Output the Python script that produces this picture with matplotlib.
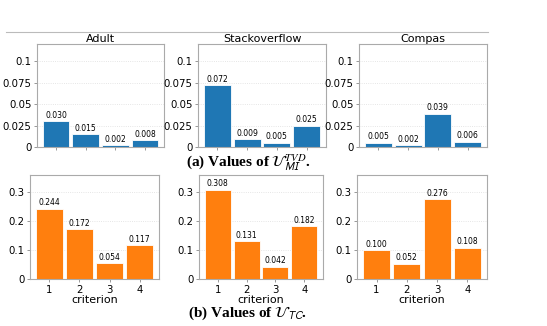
import matplotlib
matplotlib.use('Agg')
import matplotlib.pyplot as plt
from matplotlib.lines import Line2D

plt.rcParams['mathtext.fontset'] = 'stix'

datasets = ['Adult', 'Stackoverflow', 'Compas']
criteria = [1, 2, 3, 4]

u_mi = [
    [0.030, 0.015, 0.002, 0.008],
    [0.072, 0.009, 0.005, 0.025],
    [0.005, 0.002, 0.039, 0.006],
]
u_tc = [
    [0.244, 0.172, 0.054, 0.117],
    [0.308, 0.131, 0.042, 0.182],
    [0.100, 0.052, 0.276, 0.108],
]

mi_ticks = [0, 0.025, 0.05, 0.075, 0.1]
mi_ticklabels = ['0', '0.025', '0.05', '0.075', '0.1']
tc_ticks = [0, 0.1, 0.2, 0.3]
tc_ticklabels = ['0', '0.1', '0.2', '0.3']

W, H = 547, 326

# axes boxes in pixels: left, top, right, bottom
top_boxes = [(37, 44, 164, 147), (198, 44, 326, 147), (359, 44, 487, 147)]
bot_boxes = [(30, 175, 159, 279), (199, 175, 323, 279), (357, 175, 487, 279)]


def px_axes(fig, box):
    l, t, r, b = box
    return fig.add_axes([l / W, 1 - b / H, (r - l) / W, (b - t) / H])


def style(ax, ticks, labels, ymax):
    ax.set_ylim(0, ymax)
    ax.set_yticks(ticks)
    ax.set_yticklabels(labels)
    ax.grid(True, axis='y', linestyle=':', linewidth=0.6, color='#dddddd')
    ax.set_axisbelow(True)
    for s in ax.spines.values():
        s.set_color('#aaaaaa')
        s.set_linewidth(0.8)
    ax.tick_params(axis='both', labelsize=7.3, length=2.5, width=0.6,
                   color='#888888', pad=1.5)


def bars(ax, vals, color):
    ax.bar(criteria, vals, width=0.9, color=color, edgecolor='white', linewidth=0.6)
    pad = ax.get_ylim()[1] * 0.015
    for x, v in zip(criteria, vals):
        ax.text(x, v + pad, f'{v:.3f}', ha='center', va='bottom', fontsize=5.5)


fig = plt.figure(figsize=(W / 100, H / 100), dpi=100)

for i, name in enumerate(datasets):
    ax = px_axes(fig, top_boxes[i])
    style(ax, mi_ticks, mi_ticklabels, 0.12)
    bars(ax, u_mi[i], '#1f77b4')
    ax.set_xticks(criteria)
    ax.set_xticklabels([])
    ax.set_title(name, fontsize=8, pad=1.5)

    ax = px_axes(fig, bot_boxes[i])
    style(ax, tc_ticks, tc_ticklabels, 0.36)
    bars(ax, u_tc[i], '#ff7f0e')
    ax.set_xticks(criteria)
    ax.set_xlabel('criterion', fontsize=8, labelpad=0)

fig.add_artist(Line2D([6 / W, 488 / W], [1 - 32 / H, 1 - 32 / H],
                      color='#bbbbbb', linewidth=0.8))

fig.text(248 / W, 1 - 167 / H,
         r'(a) Values of $\mathcal{U}_{\mathsf{MI}}^{TVD}$.',
         ha='center', va='baseline', fontsize=11, fontweight='bold',
         family='Liberation Serif')
fig.text(248 / W, 1 - 317 / H,
         r'(b) Values of $\mathcal{U}_{\mathsf{TC}}$.',
         ha='center', va='baseline', fontsize=11, fontweight='bold',
         family='Liberation Serif')

fig.savefig('out.png', dpi=100)
